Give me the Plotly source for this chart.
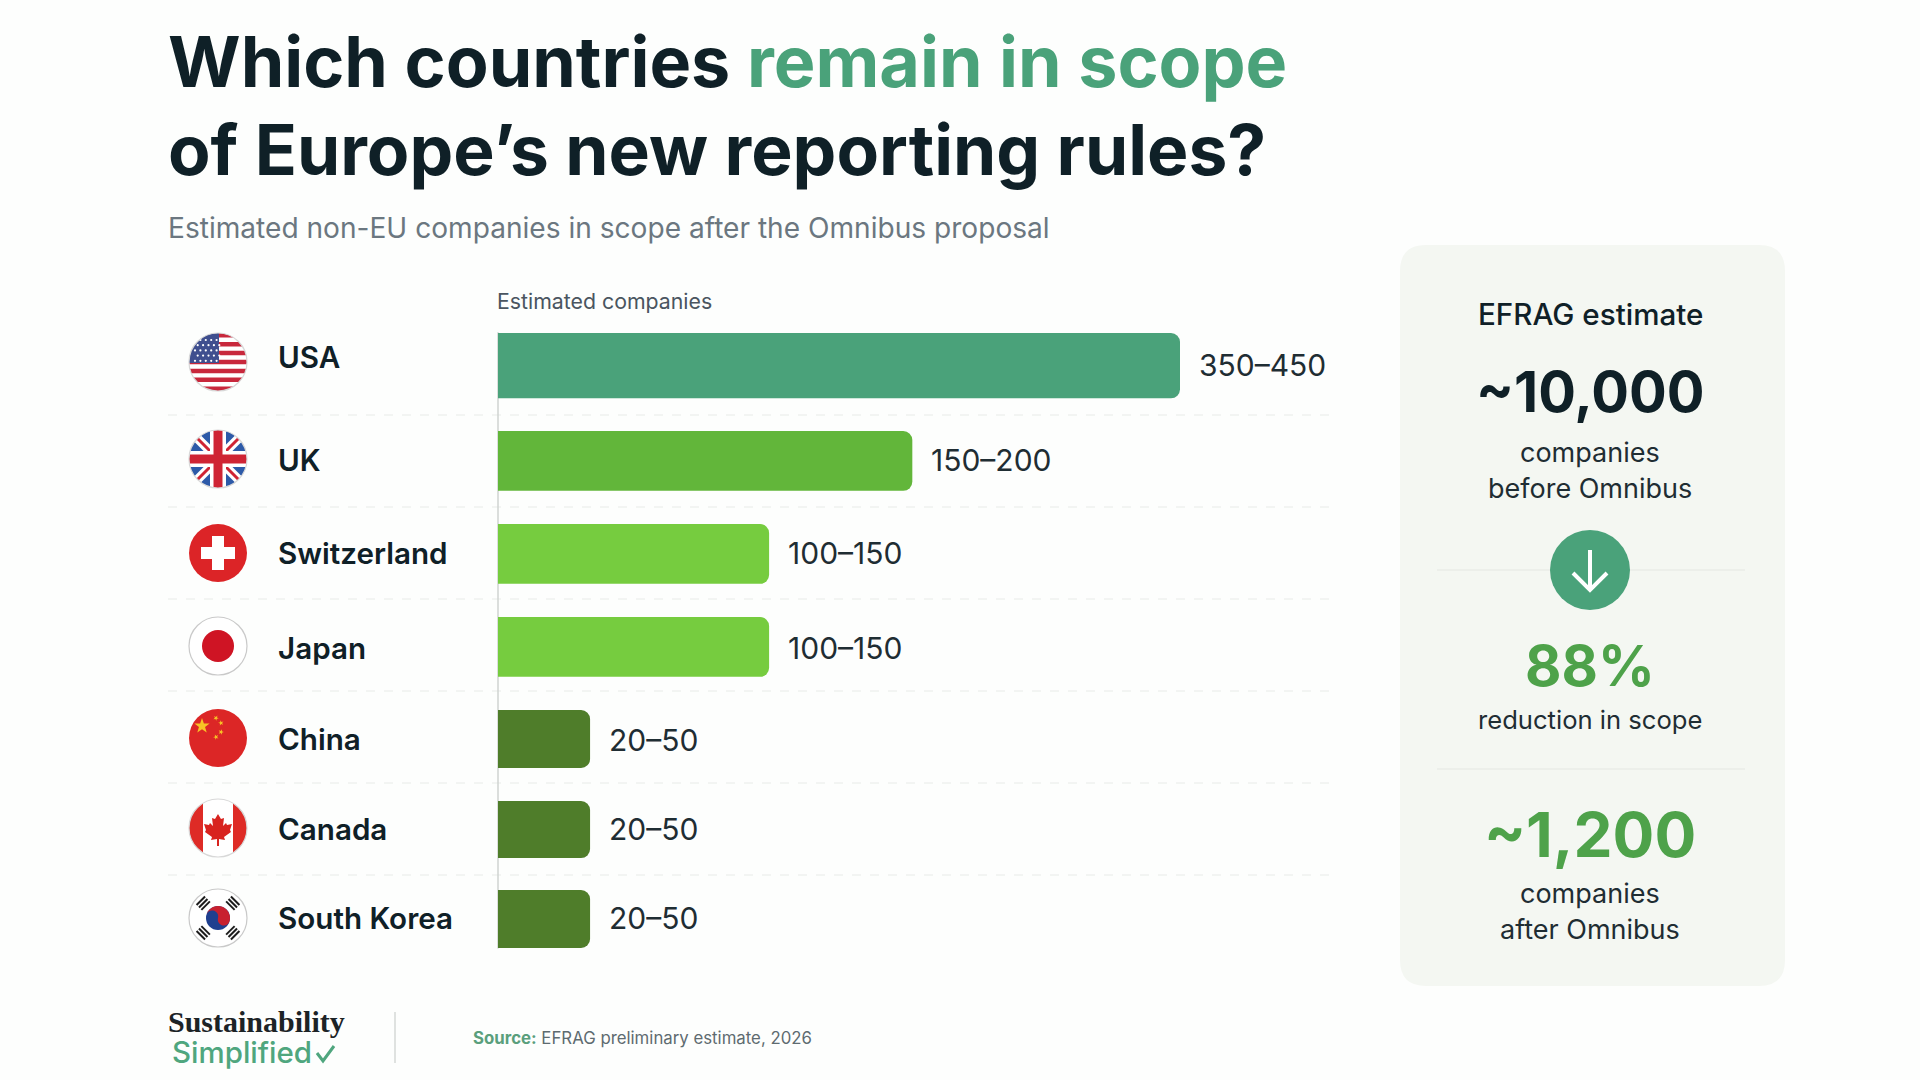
import math
import plotly.graph_objects as go

W, H = 1920, 1080
BG = "#fdfefd"
INK = "#0f2027"
FONT = "Inter"

# chart data
countries = ["USA", "UK", "Switzerland", "Japan", "China", "Canada", "South Korea"]
value_labels = ["350–450", "150–200", "100–150", "100–150", "20–50", "20–50", "20–50"]
# bar lengths as drawn in the picture, estimated companies
bar_lengths = [400, 243, 159, 159, 54, 54, 54]
bar_colors = ["#4aa27a", "#62b63a", "#76cc3f", "#76cc3f", "#4f7d2a", "#4f7d2a", "#4f7d2a"]
bar_widths = [0.71, 0.65, 0.65, 0.65, 0.63, 0.62, 0.63]
bar_offsets = [-0.391, -0.326, -0.315, -0.304, -0.293, -0.304, -0.337]

name_y = [357, 460, 553, 648, 739, 829, 918]
value_y = [365, 460, 553, 648, 740, 829, 918]
flag_y = [362, 459, 553, 646, 738, 828, 918]
FLAG_X = 218
FLAG_R = 29


def px(x):
    return x / W


def py(y):
    return 1 - y / H


def path_of(points, close=True):
    d = "M " + " L ".join(f"{px(x):.5f},{py(y):.5f}" for x, y in points)
    return d + (" Z" if close else "")


shapes = []
annotations = []


def add_poly(points, fill, close=True, line=None, lw=0):
    shapes.append(dict(type="path", xref="paper", yref="paper", path=path_of(points, close),
                       fillcolor=fill if close else "rgba(0,0,0,0)",
                       line=dict(color=line or "rgba(0,0,0,0)", width=lw)))


def circle_pts(cx, cy, r, a0=0, a1=360, n=60):
    return [(cx + r * math.cos(math.radians(a0 + (a1 - a0) * i / n)),
             cy + r * math.sin(math.radians(a0 + (a1 - a0) * i / n))) for i in range(n + 1)]


def add_circle(cx, cy, r, fill, line=None, lw=0):
    shapes.append(dict(type="circle", xref="paper", yref="paper",
                       x0=px(cx - r), x1=px(cx + r), y0=py(cy - r), y1=py(cy + r),
                       fillcolor=fill, line=dict(color=line or "rgba(0,0,0,0)", width=lw)))


def add_rect(x0, y0, x1, y1, fill):
    shapes.append(dict(type="rect", xref="paper", yref="paper",
                       x0=px(x0), x1=px(x1), y0=py(y0), y1=py(y1),
                       fillcolor=fill, line=dict(width=0)))


def add_star(cx, cy, r, fill, rot=-90):
    pts = []
    for i in range(10):
        rr = r if i % 2 == 0 else r * 0.4
        a = math.radians(rot + 36 * i)
        pts.append((cx + rr * math.cos(a), cy + rr * math.sin(a)))
    add_poly(pts, fill)


def add_bar_line(x0, y0, x1, y1, color, lw):
    shapes.append(dict(type="line", xref="paper", yref="paper",
                       x0=px(x0), x1=px(x1), y0=py(y0), y1=py(y1),
                       line=dict(color=color, width=lw)))


def flag_mask(cy, edge="#d8d8d8"):
    # square with a round hole, hides what sticks out of the flag circle
    cx, r, s = FLAG_X, FLAG_R, FLAG_R + 3
    square = [(cx - s, cy - s), (cx + s, cy - s), (cx + s, cy + s), (cx - s, cy + s)]
    d = path_of(square) + " " + path_of(circle_pts(cx, cy, r))
    shapes.append(dict(type="path", xref="paper", yref="paper", path=d, fillcolor=BG,
                       line=dict(width=0)))
    add_circle(cx, cy, r, "rgba(0,0,0,0)", edge, 1.2)


def flag_usa(cy):
    cx, r = FLAG_X, FLAG_R
    add_rect(cx - r, cy - r, cx + r, cy + r, "#ffffff")
    h = 2 * r / 13
    for i in range(0, 13, 2):
        add_rect(cx - r, cy - r + i * h, cx + r, cy - r + (i + 1) * h, "#c8283c")
    add_rect(cx - r, cy - r, cx + 1, cy + 1, "#3f4f8f")
    for row in range(5):
        for col in range(5):
            add_circle(cx - r + 6 + col * 5.4 + (row % 2) * 2.7, cy - r + 7 + row * 5.2, 1.1, "#ffffff")
    flag_mask(cy)


def flag_uk(cy):
    cx, r = FLAG_X, FLAG_R
    add_rect(cx - r, cy - r, cx + r, cy + r, "#2d5aa8")
    for s in (1, -1):
        add_bar_line(cx - r, cy - s * r, cx + r, cy + s * r, "#ffffff", 9)
        add_bar_line(cx - r, cy - s * r, cx + r, cy + s * r, "#cf2434", 3)
    add_rect(cx - 8, cy - r, cx + 8, cy + r, "#ffffff")
    add_rect(cx - r, cy - 8, cx + r, cy + 8, "#ffffff")
    add_rect(cx - 4.5, cy - r, cx + 4.5, cy + r, "#cf2434")
    add_rect(cx - r, cy - 4.5, cx + r, cy + 4.5, "#cf2434")
    flag_mask(cy)


def flag_switzerland(cy):
    cx = FLAG_X
    add_circle(cx, cy, FLAG_R, "#dc2427")
    add_rect(cx - 6, cy - 17, cx + 6, cy + 17, "#ffffff")
    add_rect(cx - 17, cy - 6, cx + 17, cy + 6, "#ffffff")


def flag_japan(cy):
    cx = FLAG_X
    add_circle(cx, cy, FLAG_R, "#ffffff", "#c9c9c9", 1.2)
    add_circle(cx, cy, 16, "#cf1424")


def flag_china(cy):
    cx = FLAG_X
    add_circle(cx, cy, FLAG_R, "#dc2626")
    add_star(cx - 16, cy - 12, 8, "#f7c325")
    for dx, dy, rot in [(-2, -20, -60), (3, -15, -30), (3, -6, 0), (-2, -1, 30)]:
        add_star(cx + dx, cy + dy, 2.8, "#f7c325", rot)


def flag_canada(cy):
    cx, r = FLAG_X, FLAG_R
    add_rect(cx - r, cy - r, cx + r, cy + r, "#ffffff")
    add_rect(cx - r, cy - r, cx - 15, cy + r, "#de2b26")
    add_rect(cx + 15, cy - r, cx + r, cy + r, "#de2b26")
    half = [(0, -14), (3, -9), (6, -10), (5, -2), (8, -5), (9, -3), (14, -4), (12, 2), (13, 4),
            (6, 9), (7, 12), (1, 11), (1, 18)]
    leaf = [(cx + x, cy + y) for x, y in half] + [(cx - x, cy + y) for x, y in reversed(half)]
    add_poly(leaf, "#d8231f")
    flag_mask(cy)


def flag_korea(cy):
    cx = FLAG_X
    add_circle(cx, cy, FLAG_R, "#ffffff", "#c9c9c9", 1.2)
    add_circle(cx, cy, 12, "#1f3f8f")
    # red half of the taegeuk, tilted, with its S shaped edge
    tilt = 15
    edge = circle_pts(cx, cy, 12, 180 + tilt, 360 + tilt, 30)
    t = math.radians(tilt)
    cs = (cx + 6 * math.cos(t), cy + 6 * math.sin(t))
    cb = (cx - 6 * math.cos(t), cy - 6 * math.sin(t))
    swirl = circle_pts(cs[0], cs[1], 6, tilt, tilt + 180, 15) + circle_pts(cb[0], cb[1], 6, tilt, tilt - 180, 15)
    add_poly(edge + swirl, "#c8202f")
    # trigrams
    for ang in (45, 135, 225, 315):
        a = math.radians(ang)
        ux, uy = math.cos(a), math.sin(a)
        for k in range(3):
            d = 17.5 + k * 3.4
            mx, my = cx + d * ux, cy + d * uy
            add_bar_line(mx - 6 * uy, my + 6 * ux, mx + 6 * uy, my - 6 * ux, "#1c1c1c", 2)


def text(x, y, s, size, color=INK, weight=400, anchor="left", family=FONT):
    # annotations keep a small pad, left aligned text is moved back by it
    if anchor == "left":
        x -= 2.5
    annotations.append(dict(xref="paper", yref="paper", x=px(x), y=py(y), text=s, showarrow=False,
                            xanchor=anchor, yanchor="middle", align=anchor,
                            font=dict(family=family, size=size, color=color, weight=weight)))


fig = go.Figure(go.Bar(
    y=countries,
    x=bar_lengths,
    orientation="h",
    width=bar_widths,
    offset=bar_offsets,
    marker=dict(color=bar_colors, line=dict(width=0)),
    hoverinfo="skip",
))

# rows: dividers under each country and the baseline of the bars
for i in range(len(countries) - 1):
    shapes.append(dict(type="line", xref="paper", yref="y", x0=px(168), x1=px(1332), y0=i + 0.5, y1=i + 0.5,
                       line=dict(color="#e8ebe8", width=1, dash="dash"), layer="below"))
shapes.append(dict(type="line", xref="x", yref="y", x0=0, x1=0, y0=-0.4, y1=6.3,
                   line=dict(color="#cfd3d0", width=1.5), layer="below"))

for draw, cy in zip([flag_usa, flag_uk, flag_switzerland, flag_japan, flag_china, flag_canada, flag_korea], flag_y):
    draw(cy)

for name, y in zip(countries, name_y):
    text(278, y, name, 29.6, weight=600)
for length, label, y in zip(bar_lengths, value_labels, value_y):
    annotations.append(dict(xref="x", yref="paper", x=length, y=py(y), text=label, showarrow=False,
                            xanchor="left", yanchor="middle", xshift=16.5,
                            font=dict(family=FONT, size=30, color="#1f2d33")))

# headline
text(168, 62, 'Which countries <span style="color:#4aa27a">remain in scope</span>', 70, weight=700)
text(168, 150, "of Europe’s new reporting rules?", 69.5, weight=700)
text(168, 228, "Estimated non-EU companies in scope after the Omnibus proposal", 28.1, color="#6b7780")
text(497, 301, "Estimated companies", 21.3, color="#4a5560")

# side card
cx0, cy0, cx1, cy1, rad = 1400, 245, 1785, 986, 26
card = (f"M {px(cx0 + rad)},{py(cy0)} L {px(cx1 - rad)},{py(cy0)} Q {px(cx1)},{py(cy0)} {px(cx1)},{py(cy0 + rad)} "
        f"L {px(cx1)},{py(cy1 - rad)} Q {px(cx1)},{py(cy1)} {px(cx1 - rad)},{py(cy1)} "
        f"L {px(cx0 + rad)},{py(cy1)} Q {px(cx0)},{py(cy1)} {px(cx0)},{py(cy1 - rad)} "
        f"L {px(cx0)},{py(cy0 + rad)} Q {px(cx0)},{py(cy0)} {px(cx0 + rad)},{py(cy0)} Z")
shapes.append(dict(type="path", xref="paper", yref="paper", path=card, fillcolor="#f4f7f2",
                   line=dict(width=0), layer="below"))
add_bar_line(1437, 570, 1745, 570, "#e3e7e2", 1.2)
add_bar_line(1437, 769, 1745, 769, "#e3e7e2", 1.2)
add_circle(1590, 570, 40, "#4aa27a")
add_poly([(1590, 550), (1590, 589)], "", close=False, line="#ffffff", lw=4)
add_poly([(1573, 573), (1590, 590), (1607, 573)], "", close=False, line="#ffffff", lw=4)

GREEN = "#4ea24a"
text(1590, 314, "EFRAG estimate", 29.6, weight=500, anchor="center")
text(1590, 392, "~10,000", 56, weight=700, anchor="center")
text(1590, 452, "companies", 27, color="#1f2d33", anchor="center")
text(1590, 489, "before Omnibus", 27, color="#1f2d33", anchor="center")
text(1590, 666, "88%", 56, color=GREEN, weight=700, anchor="center")
text(1590, 719, "reduction in scope", 25.6, color="#1f2d33", anchor="center")
text(1590, 834, "~1,200", 62, color=GREEN, weight=700, anchor="center")
text(1590, 894, "companies", 27, color="#1f2d33", anchor="center")
text(1590, 929, "after Omnibus", 27, color="#1f2d33", anchor="center")

# footer
text(168, 1021, "Sustainability", 30, color="#1c2326", weight=700, family="Liberation Serif")
text(172, 1052, "Simplified", 29.5, color="#4fa67e", weight=500)
add_poly([(317, 1053), (323, 1061), (334, 1046)], "", close=False, line="#4fa67e", lw=3)
add_bar_line(395, 1012, 395, 1063, "#d5d8d6", 1.5)
text(473, 1038, '<span style="color:#5a9f7c"><b>Source:</b></span> EFRAG preliminary estimate, 2026', 16.8, color="#5e6b70")

fig.update_layout(
    width=W, height=H,
    margin=dict(l=0, r=0, t=0, b=0),
    paper_bgcolor=BG, plot_bgcolor="rgba(0,0,0,0)",
    barcornerradius=9,
    showlegend=False,
    shapes=shapes,
    annotations=annotations,
    xaxis=dict(domain=[px(168), px(1332)], range=[(168 - 498) / 1.705, (1332 - 498) / 1.705], visible=False),
    yaxis=dict(domain=[py(967), py(323)], type="category", autorange="reversed", visible=False),
)

fig.write_html("out.html", config={"displayModeBar": False}, post_script="document.body.style.margin='0';")
